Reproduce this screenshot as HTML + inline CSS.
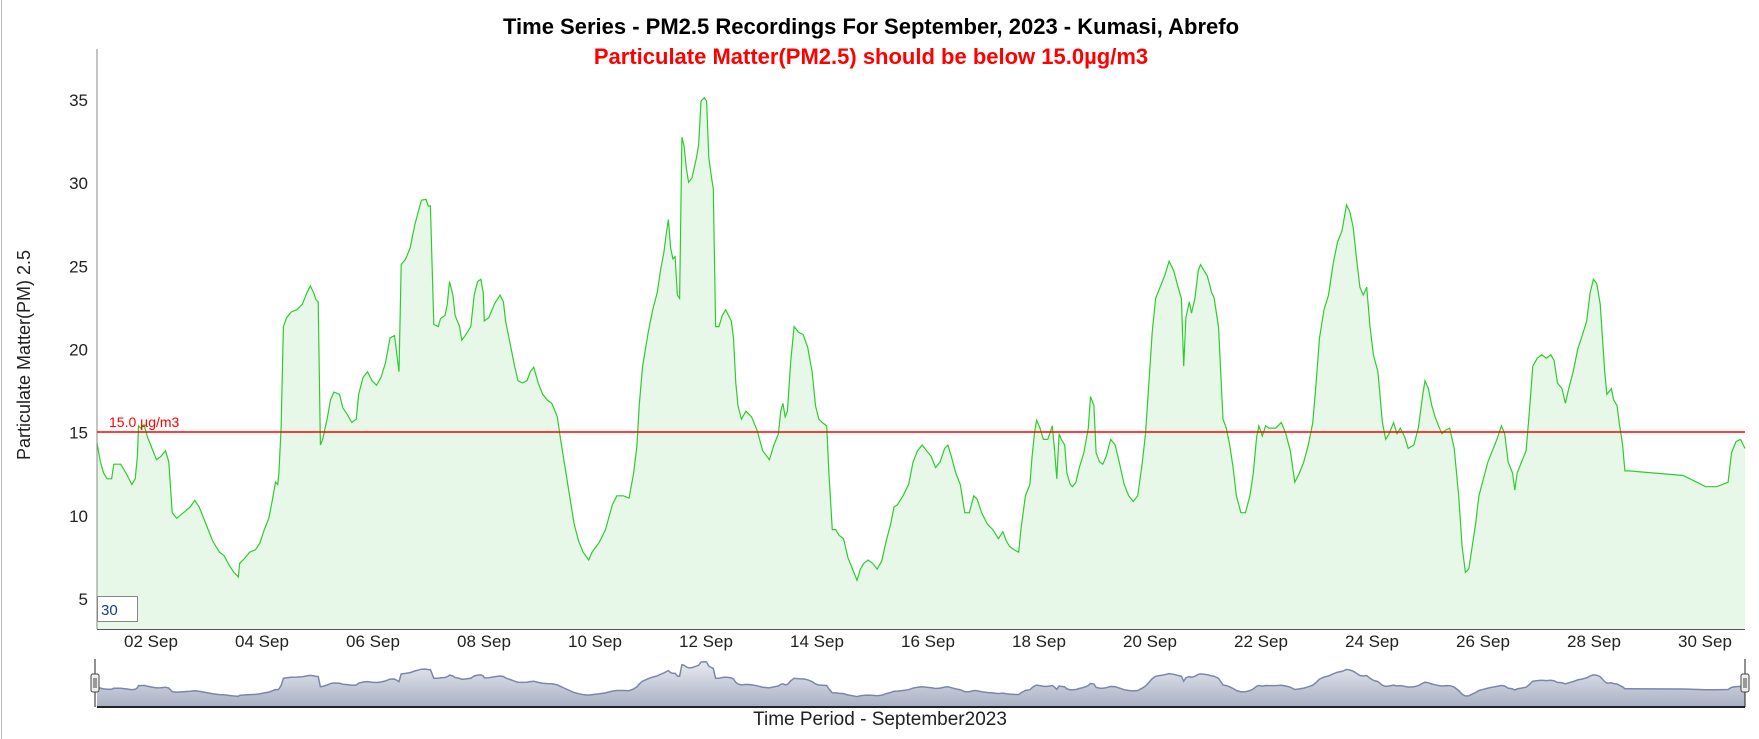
<!DOCTYPE html>
<html><head><meta charset="utf-8"><style>
html,body{margin:0;padding:0;background:#fff;}
body{width:1759px;height:739px;overflow:hidden;position:relative;font-family:"Liberation Sans",sans-serif;}
</style></head><body>
<svg id="s" width="1759" height="739" xmlns="http://www.w3.org/2000/svg" style="position:absolute;left:0;top:0">
<line x1="1.5" y1="0" x2="1.5" y2="739" stroke="#bbb" stroke-width="1"/>
<text x="871" y="34" text-anchor="middle" font-size="22" font-weight="bold" fill="#000">Time Series - PM2.5 Recordings For September, 2023 - Kumasi, Abrefo</text>
<text x="871" y="64" text-anchor="middle" font-size="22" font-weight="bold" fill="#f00">Particulate Matter(PM2.5) should be below 15.0µg/m3</text>
<text transform="translate(30,355) rotate(-90)" text-anchor="middle" font-size="18" fill="#222">Particulate Matter(PM) 2.5</text>
<g id="ytk" font-size="17" fill="#222" text-anchor="end"></g>
<g id="xtk" font-size="17" fill="#222" text-anchor="middle"></g>
<path id="area" fill="#e8f8e8" stroke="none"/>
<path id="line" fill="none" stroke="#2ecc2e" stroke-width="1.2"/>
<line x1="97" y1="49" x2="97" y2="629" stroke="#888" stroke-width="1"/>
<line x1="97" y1="629.5" x2="1745" y2="629.5" stroke="#555" stroke-width="1"/>
<line x1="97" y1="432" x2="1745" y2="432" stroke="#f00" stroke-width="1.5"/>
<text x="109" y="427" font-size="14" fill="#f00">15.0 µg/m3</text>
<rect x="97.5" y="596.5" width="40" height="25" fill="#fff" stroke="#888"/>
<text x="101" y="615" font-size="15" fill="#1a3a8a">30</text>
<path id="narea" fill="url(#ng)" stroke="none"/>
<defs><linearGradient id="ng" x1="0" y1="0" x2="0" y2="1"><stop offset="0" stop-color="#e8eaf0"/><stop offset="1" stop-color="#a8b0c4"/></linearGradient></defs>
<path id="nline" fill="none" stroke="#7a88a8" stroke-width="1.5"/>
<line x1="97" y1="707" x2="1745" y2="707" stroke="#222" stroke-width="2"/>
<line x1="95" y1="659" x2="95" y2="707" stroke="#222"/>
<line x1="1745" y1="659" x2="1745" y2="707" stroke="#222"/>
<rect x="91" y="674" width="8" height="18" rx="2" fill="#eee" stroke="#444"/>
<rect x="1741" y="674" width="8" height="18" rx="2" fill="#eee" stroke="#444"/>
<line x1="94" y1="678" x2="94" y2="688" stroke="#444"/><line x1="96" y1="678" x2="96" y2="688" stroke="#444"/>
<line x1="1744" y1="678" x2="1744" y2="688" stroke="#444"/><line x1="1746" y1="678" x2="1746" y2="688" stroke="#444"/>
<text x="880" y="725" text-anchor="middle" font-size="19" fill="#222">Time Period - September2023</text>
</svg>
<script>
var P=[87,393,90,410,93,420,96,425,100,425,102,412,108,412,110,415,114,422,118,430,121,425,123,405,124,378,126,380,129,377,132,388,136,398,140,408,144,405,148,400,151,410,154,455,158,460,164,455,170,450,174,444,178,450,184,465,190,480,196,490,200,493,205,502,209,508,213,512,214,500,218,496,223,490,228,488,232,482,236,470,240,460,243,445,246,428,248,430,249,420,251,380,253,290,256,282,260,277,265,275,270,270,274,260,277,254,280,260,282,266,284,268,286,395,288,390,292,372,295,355,298,348,303,350,306,362,310,368,314,375,318,372,320,350,324,335,328,330,332,338,336,342,340,335,344,322,348,300,352,298,356,330,358,235,362,230,366,220,370,200,374,185,376,178,380,177,382,183,384,183,387,288,391,290,393,283,397,280,399,270,401,250,404,262,406,280,410,290,412,302,415,298,420,290,423,262,426,250,429,248,431,260,432,285,436,282,441,270,446,262,449,268,451,285,455,305,459,325,462,338,466,340,470,338,473,330,476,326,480,340,484,350,488,355,492,358,497,370,500,390,504,415,508,440,512,465,516,480,520,490,525,497,528,490,534,482,540,470,546,448,550,440,556,440,561,442,565,420,568,395,570,360,573,325,578,295,582,275,586,260,589,240,592,224,594,208,596,195,598,220,600,230,602,228,604,262,606,265,608,122,610,130,612,150,614,162,617,158,621,140,623,128,625,90,628,87,630,90,632,140,634,155,636,168,638,290,641,290,644,280,647,275,652,285,654,300,656,340,658,360,661,372,665,365,670,370,675,382,680,400,686,408,690,395,694,385,696,365,698,358,700,370,702,365,705,320,708,290,712,295,716,297,720,308,724,330,727,360,730,372,733,375,737,378,739,420,742,470,745,470,748,475,752,478,756,495,760,505,764,515,767,505,770,500,774,497,778,500,782,505,786,498,790,480,794,465,797,450,800,448,805,440,810,430,814,410,818,400,822,395,826,400,830,405,834,415,838,410,842,398,845,395,848,405,852,420,856,430,860,455,864,455,868,440,871,443,875,455,880,465,885,470,890,478,894,472,897,480,900,485,904,488,908,490,910,470,914,440,918,430,920,405,922,385,924,373,927,380,930,390,934,390,938,378,940,400,942,425,944,385,946,390,949,395,951,420,954,430,956,432,959,428,962,415,966,402,970,380,972,352,975,360,977,402,980,410,983,412,986,405,990,390,994,395,998,412,1002,430,1006,440,1010,445,1014,440,1018,412,1021,385,1024,340,1027,295,1030,265,1034,255,1038,245,1042,232,1046,240,1050,255,1053,265,1055,325,1057,282,1060,268,1062,278,1065,265,1068,240,1070,235,1073,240,1076,245,1080,260,1082,264,1086,290,1090,372,1093,380,1096,395,1099,415,1102,440,1106,455,1110,455,1114,440,1117,420,1120,388,1122,378,1125,387,1128,378,1131,380,1137,380,1142,375,1146,385,1150,400,1154,428,1158,420,1162,410,1166,395,1170,375,1173,340,1176,300,1180,275,1184,262,1188,235,1192,215,1196,205,1200,182,1203,188,1206,202,1209,230,1212,255,1215,262,1218,255,1221,290,1224,315,1228,330,1232,375,1235,390,1238,385,1242,375,1245,385,1248,380,1252,388,1255,398,1260,395,1264,380,1268,350,1270,338,1273,345,1276,360,1279,370,1282,378,1285,385,1288,382,1292,380,1296,398,1300,440,1303,485,1306,508,1309,505,1312,485,1315,465,1318,440,1322,425,1326,410,1330,400,1334,390,1338,378,1341,385,1344,410,1348,420,1350,435,1352,420,1356,410,1360,400,1363,365,1366,325,1370,318,1374,315,1378,318,1382,315,1385,320,1388,340,1392,345,1395,358,1398,345,1402,330,1406,310,1410,298,1414,285,1417,260,1420,248,1423,252,1426,270,1430,330,1432,350,1436,345,1438,355,1441,360,1443,375,1446,395,1448,418,1452,418,1500,422,1510,427,1520,432,1530,432,1540,428,1543,402,1547,392,1551,390,1555,398];
function X(p){return 97+(p-87)*1.1226;}function Y(p){return 100+(p-89)*1.1275;}
var l="",nl="",pts=[];
for(var i=0;i<P.length;i+=2){var x=X(P[i]),y=Y(P[i+1]);pts.push([x,y]);}
pts[pts.length-1][0]=1745;
pts.forEach(function(q,i){l+=(i?"L":"M")+q[0].toFixed(1)+","+q[1].toFixed(1);var ny=662+(q[1]-100)*0.072;nl+=(i?"L":"M")+q[0].toFixed(1)+","+ny.toFixed(1);});
document.getElementById("line").setAttribute("d",l);
document.getElementById("area").setAttribute("d",l+"L1745,629L97,629Z");
document.getElementById("nline").setAttribute("d",nl);
document.getElementById("narea").setAttribute("d",nl+"L1745,707L97,707Z");
var ns="http://www.w3.org/2000/svg";
[5,10,15,20,25,30,35].forEach(function(v){var t=document.createElementNS(ns,"text");t.setAttribute("x",88);t.setAttribute("y",100+(35-v)*16.63+6);t.textContent=v;document.getElementById("ytk").appendChild(t);});
for(var d=2;d<=30;d+=2){var t=document.createElementNS(ns,"text");t.setAttribute("x",151+(d-2)*55.5);t.setAttribute("y",647);t.textContent=(d<10?"0":"")+d+" Sep";document.getElementById("xtk").appendChild(t);}
</script>
</body></html>
